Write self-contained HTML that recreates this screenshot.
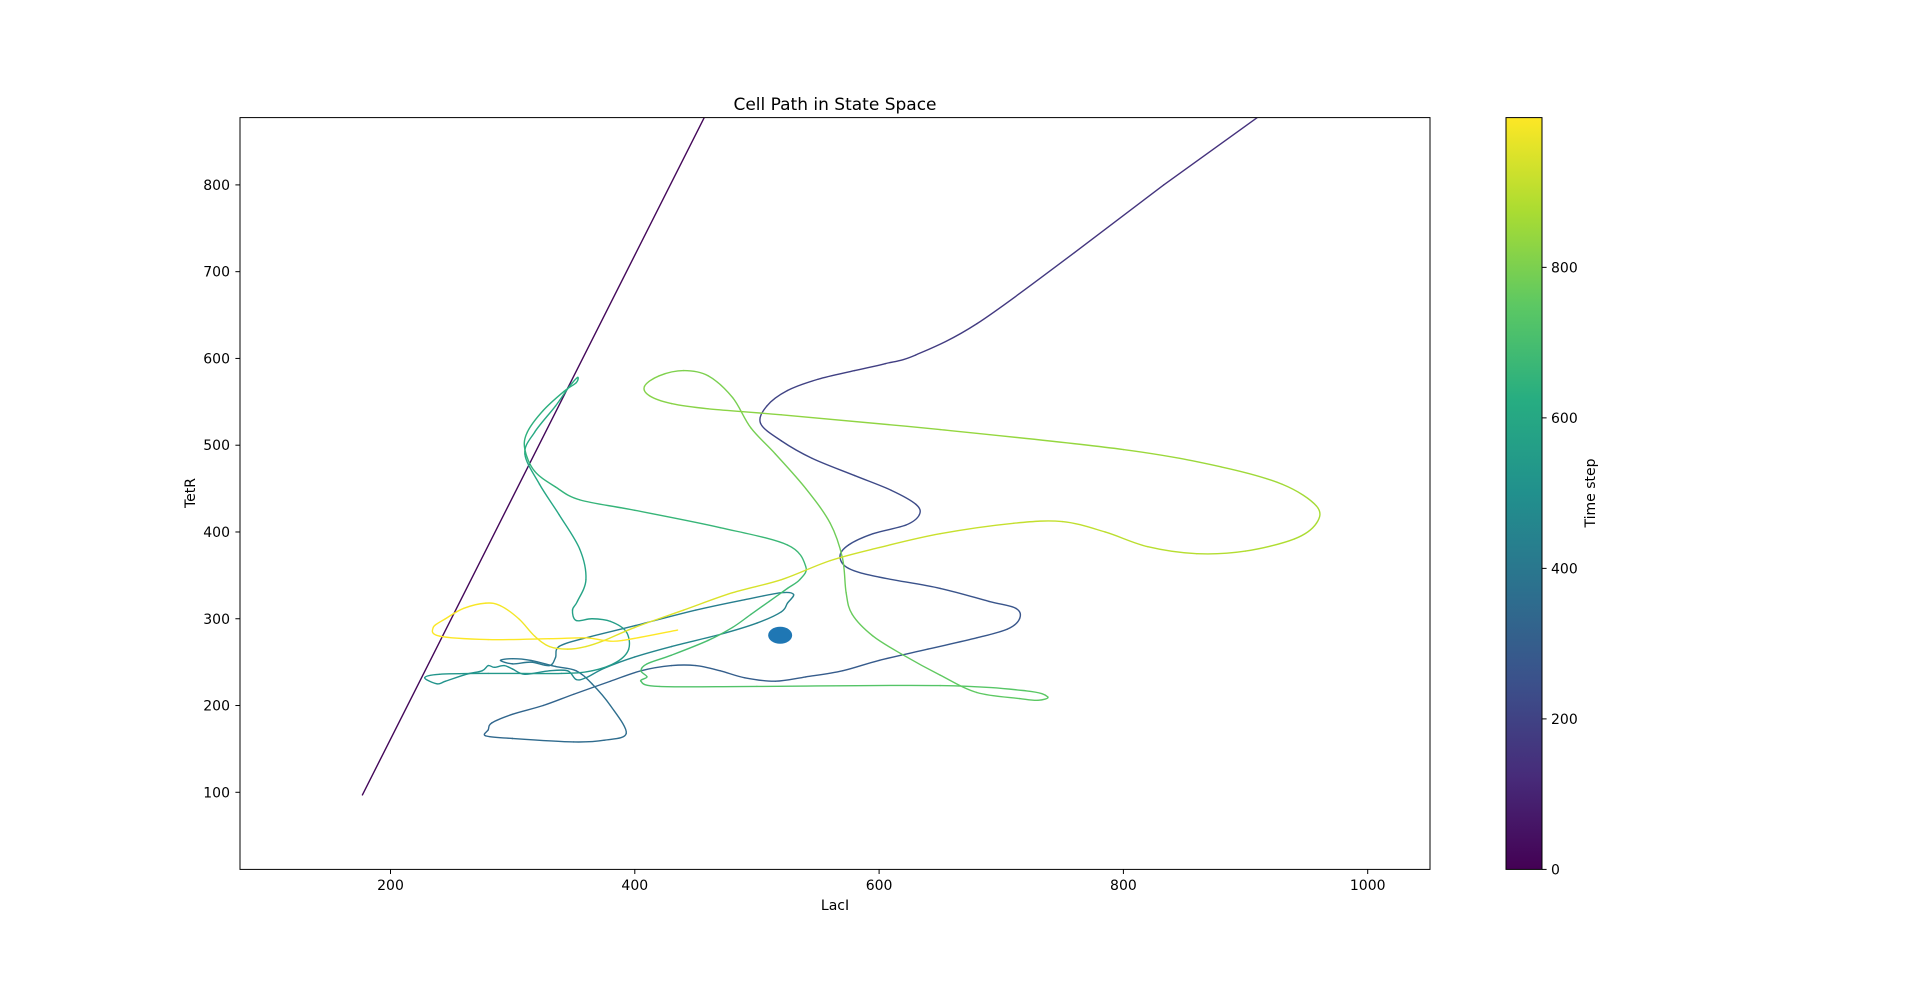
<!DOCTYPE html>
<html><head><meta charset="utf-8"><style>
body{margin:0;background:#fff;}
svg text{font-family:"DejaVu Sans","Liberation Sans",sans-serif;fill:#000;}
</style></head><body>
<svg id="chart" width="1920" height="977" xmlns="http://www.w3.org/2000/svg">
<defs>
<clipPath id="clip"><rect x="240" y="117.6" width="1190" height="751.8"/></clipPath>
<linearGradient id="cbgrad" x1="0" y1="1" x2="0" y2="0">
<stop offset="0" stop-color="#440154"/><stop offset="0.125" stop-color="#472c7a"/><stop offset="0.25" stop-color="#3b518b"/><stop offset="0.375" stop-color="#2c718e"/><stop offset="0.5" stop-color="#21908d"/><stop offset="0.625" stop-color="#27ad81"/><stop offset="0.75" stop-color="#5cc863"/><stop offset="0.875" stop-color="#aadc32"/><stop offset="1" stop-color="#fde725"/>
</linearGradient>
</defs>
<text x="835" y="110" font-size="17" text-anchor="middle">Cell Path in State Space</text>
<g id="plot" clip-path="url(#clip)"></g>
<rect x="240" y="117.6" width="1190" height="751.8" fill="none" stroke="#000" stroke-width="1"/>
<g id="xticks"></g>
<g id="yticks"></g>
<text x="835" y="910" font-size="14" text-anchor="middle">LacI</text>
<text x="195" y="493" font-size="14" text-anchor="middle" transform="rotate(-90 195 493)">TetR</text>
<rect x="1506" y="117.6" width="36" height="751.8" fill="url(#cbgrad)" stroke="#000" stroke-width="1"/>
<g id="cbticks"></g>
<text x="1595" y="493" font-size="14" text-anchor="middle" transform="rotate(-90 1595 493)">Time step</text>
</svg>
<script>
const lacI=[177,457,700,910,833,760,680,630,605,580,550,525,508,503,520,545,580,610,630,633,622,595,575,568,575,600,650,690,712,715,705,680,640,600,570,540,515,490,470,450,430,405,380,350,325,300,283,280,278,300,350,375,393,380,365,352,335,315,300,290,300,315,330,335,338,360,400,450,490,520,530,525,520,500,470,430,400,375,360,352,345,330,310,300,293,285,280,275,262,245,238,228,240,280,340,365,385,395,393,380,365,352,349,353,360,355,338,322,310,318,335,345,353,352,342,325,312,310,318,335,355,400,470,525,540,535,525,510,495,480,460,430,410,405,410,405,420,500,650,720,738,730,715,680,650,620,595,578,573,570,560,540,515,495,480,460,440,420,408,412,430,460,520,650,800,880,930,958,958,940,900,860,820,785,750,710,650,600,560,520,480,440,400,375,360,345,330,318,305,290,278,260,245,235,240,280,330,360,375,390,435];
const tetR=[97,878,1556,878,800,722,640,604,594,586,576,563,545,525,505,485,465,448,432,420,408,398,385,372,358,348,335,320,312,300,288,278,265,252,240,233,228,232,240,246,246,240,228,213,200,190,180,172,165,162,158,160,168,200,225,240,245,252,254,252,248,250,246,255,268,278,292,310,322,330,328,318,308,295,282,268,256,243,232,230,240,240,236,242,246,244,246,240,236,228,225,232,236,237,237,240,250,265,285,297,300,298,310,320,345,380,420,455,490,515,545,565,578,572,562,540,515,495,470,452,437,425,405,385,360,345,335,320,305,290,275,258,248,240,233,228,222,222,223,217,210,206,208,215,235,258,280,305,330,370,410,450,490,520,555,580,586,580,568,557,548,542,535,518,495,475,455,430,410,392,378,375,383,400,412,410,398,382,367,345,330,310,290,275,268,265,268,280,300,315,318,312,300,290,280,276,277,278,275,275,287];
const timeStep=[0,40,90,140,150,162,175,184,188,192,196,200,204,208,212,217,222,226,230,232,235,240,243,246,249,252,258,263,266,268,271,275,280,285,290,294,297,300,303,306,309,313,317,322,327,331,334,336,338,342,350,354,358,365,370,374,378,382,386,390,394,398,402,406,410,415,420,425,430,434,437,440,443,447,451,456,460,464,468,472,476,480,484,488,492,496,500,504,508,512,516,520,524,530,536,540,545,550,555,560,565,570,575,580,585,590,595,600,605,610,615,620,622,625,630,635,640,643,646,650,655,660,666,672,678,682,686,690,694,698,702,706,710,713,716,719,722,728,735,742,746,748,750,753,756,760,764,768,772,776,780,784,788,792,796,800,804,808,812,815,818,822,828,836,846,854,860,866,872,878,884,890,896,902,908,914,920,926,932,938,944,950,956,962,966,970,974,978,982,986,990,993,995,996,997,998,998,999,999,999,999];
const xTicks=[200,400,600,800,1000];
const yTicks=[100,200,300,400,500,600,700,800];
const cbTicks=[0,200,400,600,800];
const markerPoint=[519,281];
const NS='http://www.w3.org/2000/svg';
const X=v=>146.2+v*1.2215;
const Y=v=>184.9+(800-v)*0.8677;
const CB=v=>869.4-v*(751.8/999);
const stops=[[68,1,84],[71,44,122],[59,81,139],[44,113,142],[33,144,141],[39,173,129],[92,200,99],[170,220,50],[253,231,37]];
function viridis(t){t=Math.max(0,Math.min(1,t))*(stops.length-1);const i=Math.min(stops.length-2,Math.floor(t)),f=t-i;const c=stops[i].map((a,k)=>Math.round(a+(stops[i+1][k]-a)*f));return `rgb(${c[0]},${c[1]},${c[2]})`;}
const plot=document.getElementById('plot');
const px=lacI.map(X), py=tetR.map(Y);
const n=px.length;
for(let i=0;i<n-1;i++){
  const i0=Math.max(4,i-1), i3=Math.min(n-1,i+2);
  const straight=(i<5);
  const c1x=straight?px[i]:px[i]+(px[i+1]-px[i0])/6, c1y=straight?py[i]:py[i]+(py[i+1]-py[i0])/6;
  const c2x=straight?px[i+1]:px[i+1]-(px[i3]-px[i])/6, c2y=straight?py[i+1]:py[i+1]-(py[i3]-py[i])/6;
  const p=document.createElementNS(NS,'path');
  
  
  p.setAttribute('d',`M${px[i]},${py[i]} C${c1x},${c1y} ${c2x},${c2y} ${px[i+1]},${py[i+1]}`);
  p.setAttribute('fill','none');
  p.setAttribute('stroke',viridis((timeStep[i]+timeStep[i+1])/2/999));
  p.setAttribute('stroke-width','1.4');p.setAttribute('stroke-linecap','round');
  plot.appendChild(p);
}
const m=document.createElementNS(NS,'ellipse');


m.setAttribute('cx',X(markerPoint[0]));m.setAttribute('cy',Y(markerPoint[1]));
m.setAttribute('rx','12');m.setAttribute('ry','8.5');m.setAttribute('fill','#1f77b4');
plot.appendChild(m);
const xg=document.getElementById('xticks');
xTicks.forEach(v=>{
  const t=document.createElementNS(NS,'line');
  
  
  t.setAttribute('x1',X(v));t.setAttribute('x2',X(v));t.setAttribute('y1',869.4);t.setAttribute('y2',874);t.setAttribute('stroke','#000');
  xg.appendChild(t);
  const s=document.createElementNS(NS,'text');
  
  
  s.setAttribute('x',X(v));s.setAttribute('y',890);s.setAttribute('font-size','14');s.setAttribute('text-anchor','middle');
  s.textContent=v;xg.appendChild(s);
});
const yg=document.getElementById('yticks');
yTicks.forEach(v=>{
  const t=document.createElementNS(NS,'line');
  
  
  t.setAttribute('x1',235.4);t.setAttribute('x2',240);t.setAttribute('y1',Y(v));t.setAttribute('y2',Y(v));t.setAttribute('stroke','#000');
  yg.appendChild(t);
  const s=document.createElementNS(NS,'text');
  
  
  s.setAttribute('x',230);s.setAttribute('y',Y(v)+5);s.setAttribute('font-size','14');s.setAttribute('text-anchor','end');
  s.textContent=v;yg.appendChild(s);
});
const cg=document.getElementById('cbticks');
cbTicks.forEach(v=>{
  const t=document.createElementNS(NS,'line');
  
  
  t.setAttribute('x1',1542);t.setAttribute('x2',1546.6);t.setAttribute('y1',CB(v));t.setAttribute('y2',CB(v));t.setAttribute('stroke','#000');
  cg.appendChild(t);
  const s=document.createElementNS(NS,'text');
  
  
  s.setAttribute('x',1551);s.setAttribute('y',CB(v)+5);s.setAttribute('font-size','14');
  s.textContent=v;cg.appendChild(s);
});
</script>
</body></html>
